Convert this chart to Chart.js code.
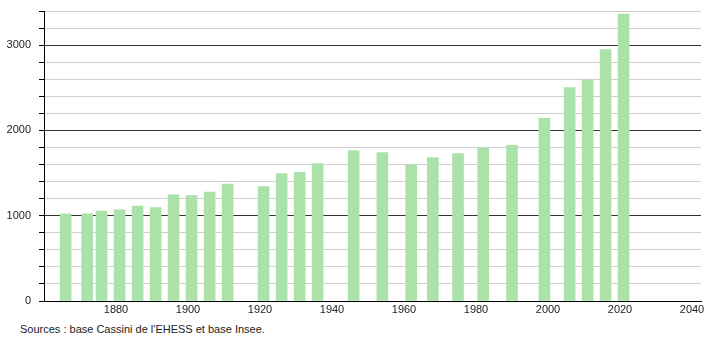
<!DOCTYPE html>
<html>
<head>
<meta charset="utf-8">
<script src="https://cdn.jsdelivr.net/npm/chart.js@4"></script>
<style>
  html, body { margin: 0; padding: 0; background: #fff; }
  #wrap { position: relative; width: 710px; height: 340px; }
  #src { position: absolute; left: 20px; top: 323px; font: 11px "Liberation Sans", Arial, sans-serif; color: #222; }
</style>
</head>
<body>
<div id="wrap">
  <canvas id="popChart" width="710" height="320"></canvas>
  <div id="src">Sources : base Cassini de l'EHESS et base Insee.</div>
</div>
<script>
const years = [1866, 1872, 1876, 1881, 1886, 1891, 1896, 1901, 1906, 1911,
               1921, 1926, 1931, 1936, 1946, 1954, 1962, 1968, 1975, 1982,
               1990, 1999, 2006, 2011, 2016, 2021];
const population = [1022, 1022, 1055, 1070, 1114, 1094, 1245, 1235, 1278, 1372,
                    1341, 1494, 1510, 1612, 1765, 1741, 1596, 1682, 1729, 1792,
                    1824, 2141, 2502, 2592, 2949, 3365];
const xTickLabels = [1880, 1900, 1920, 1940, 1960, 1980, 2000, 2020, 2040];
const yTickLabels = [0, 1000, 2000, 3000];

document.addEventListener('DOMContentLoaded', function () {
    const ctx = document.getElementById('popChart').getContext('2d');
    const points = years.map((y, i) => ({ x: y, y: population[i] }));

    new Chart(ctx, {
        type: 'bar',
        data: {
            datasets: [{
                label: 'Population',
                data: points,
                backgroundColor: 'rgb(170, 226, 170)',
                borderWidth: 0,
                barThickness: 11
            }]
        },
        options: {
            responsive: false,
            animation: false,
            layout: { padding: { top: 11, right: 9, left: 0, bottom: 0 } },
            plugins: {
                legend: { display: false },
                tooltip: { enabled: false }
            },
            scales: {
                x: {
                    type: 'linear',
                    min: 1860,
                    max: 2042.5,
                    offset: false,
                    afterBuildTicks: function (scale) {
                        scale.ticks = xTickLabels.map(v => ({ value: v }));
                    },
                    afterFit: function (scale) {
                        scale.height = 19;
                        scale.paddingLeft = 0;
                        scale.paddingRight = 0;
                    },
                    grid: { display: false, drawTicks: false },
                    border: { display: true, color: '#000', width: 1 },
                    ticks: {
                        padding: 2,
                        autoSkip: false,
                        maxRotation: 0,
                        color: '#222',
                        font: { family: '"Liberation Sans", Arial, sans-serif', size: 11 },
                        callback: v => String(v)
                    }
                },
                y: {
                    min: 0,
                    max: 3400,
                    afterFit: function (scale) {
                        scale.width = 44;
                        scale.paddingTop = 0;
                        scale.paddingBottom = 0;
                    },
                    border: { display: true, color: '#000', width: 1 },
                    grid: {
                        color: c => (c.tick.value % 1000 === 0 ? '#333' : '#cfcfcf'),
                        lineWidth: 1,
                        tickLength: 5,
                        tickColor: '#000'
                    },
                    ticks: {
                        stepSize: 200,
                        padding: 8,
                        color: '#222',
                        font: { family: '"Liberation Sans", Arial, sans-serif', size: 11 },
                        callback: v => (yTickLabels.includes(v) ? String(v) : '')
                    }
                }
            }
        }
    });
});
</script>
</body>
</html>
